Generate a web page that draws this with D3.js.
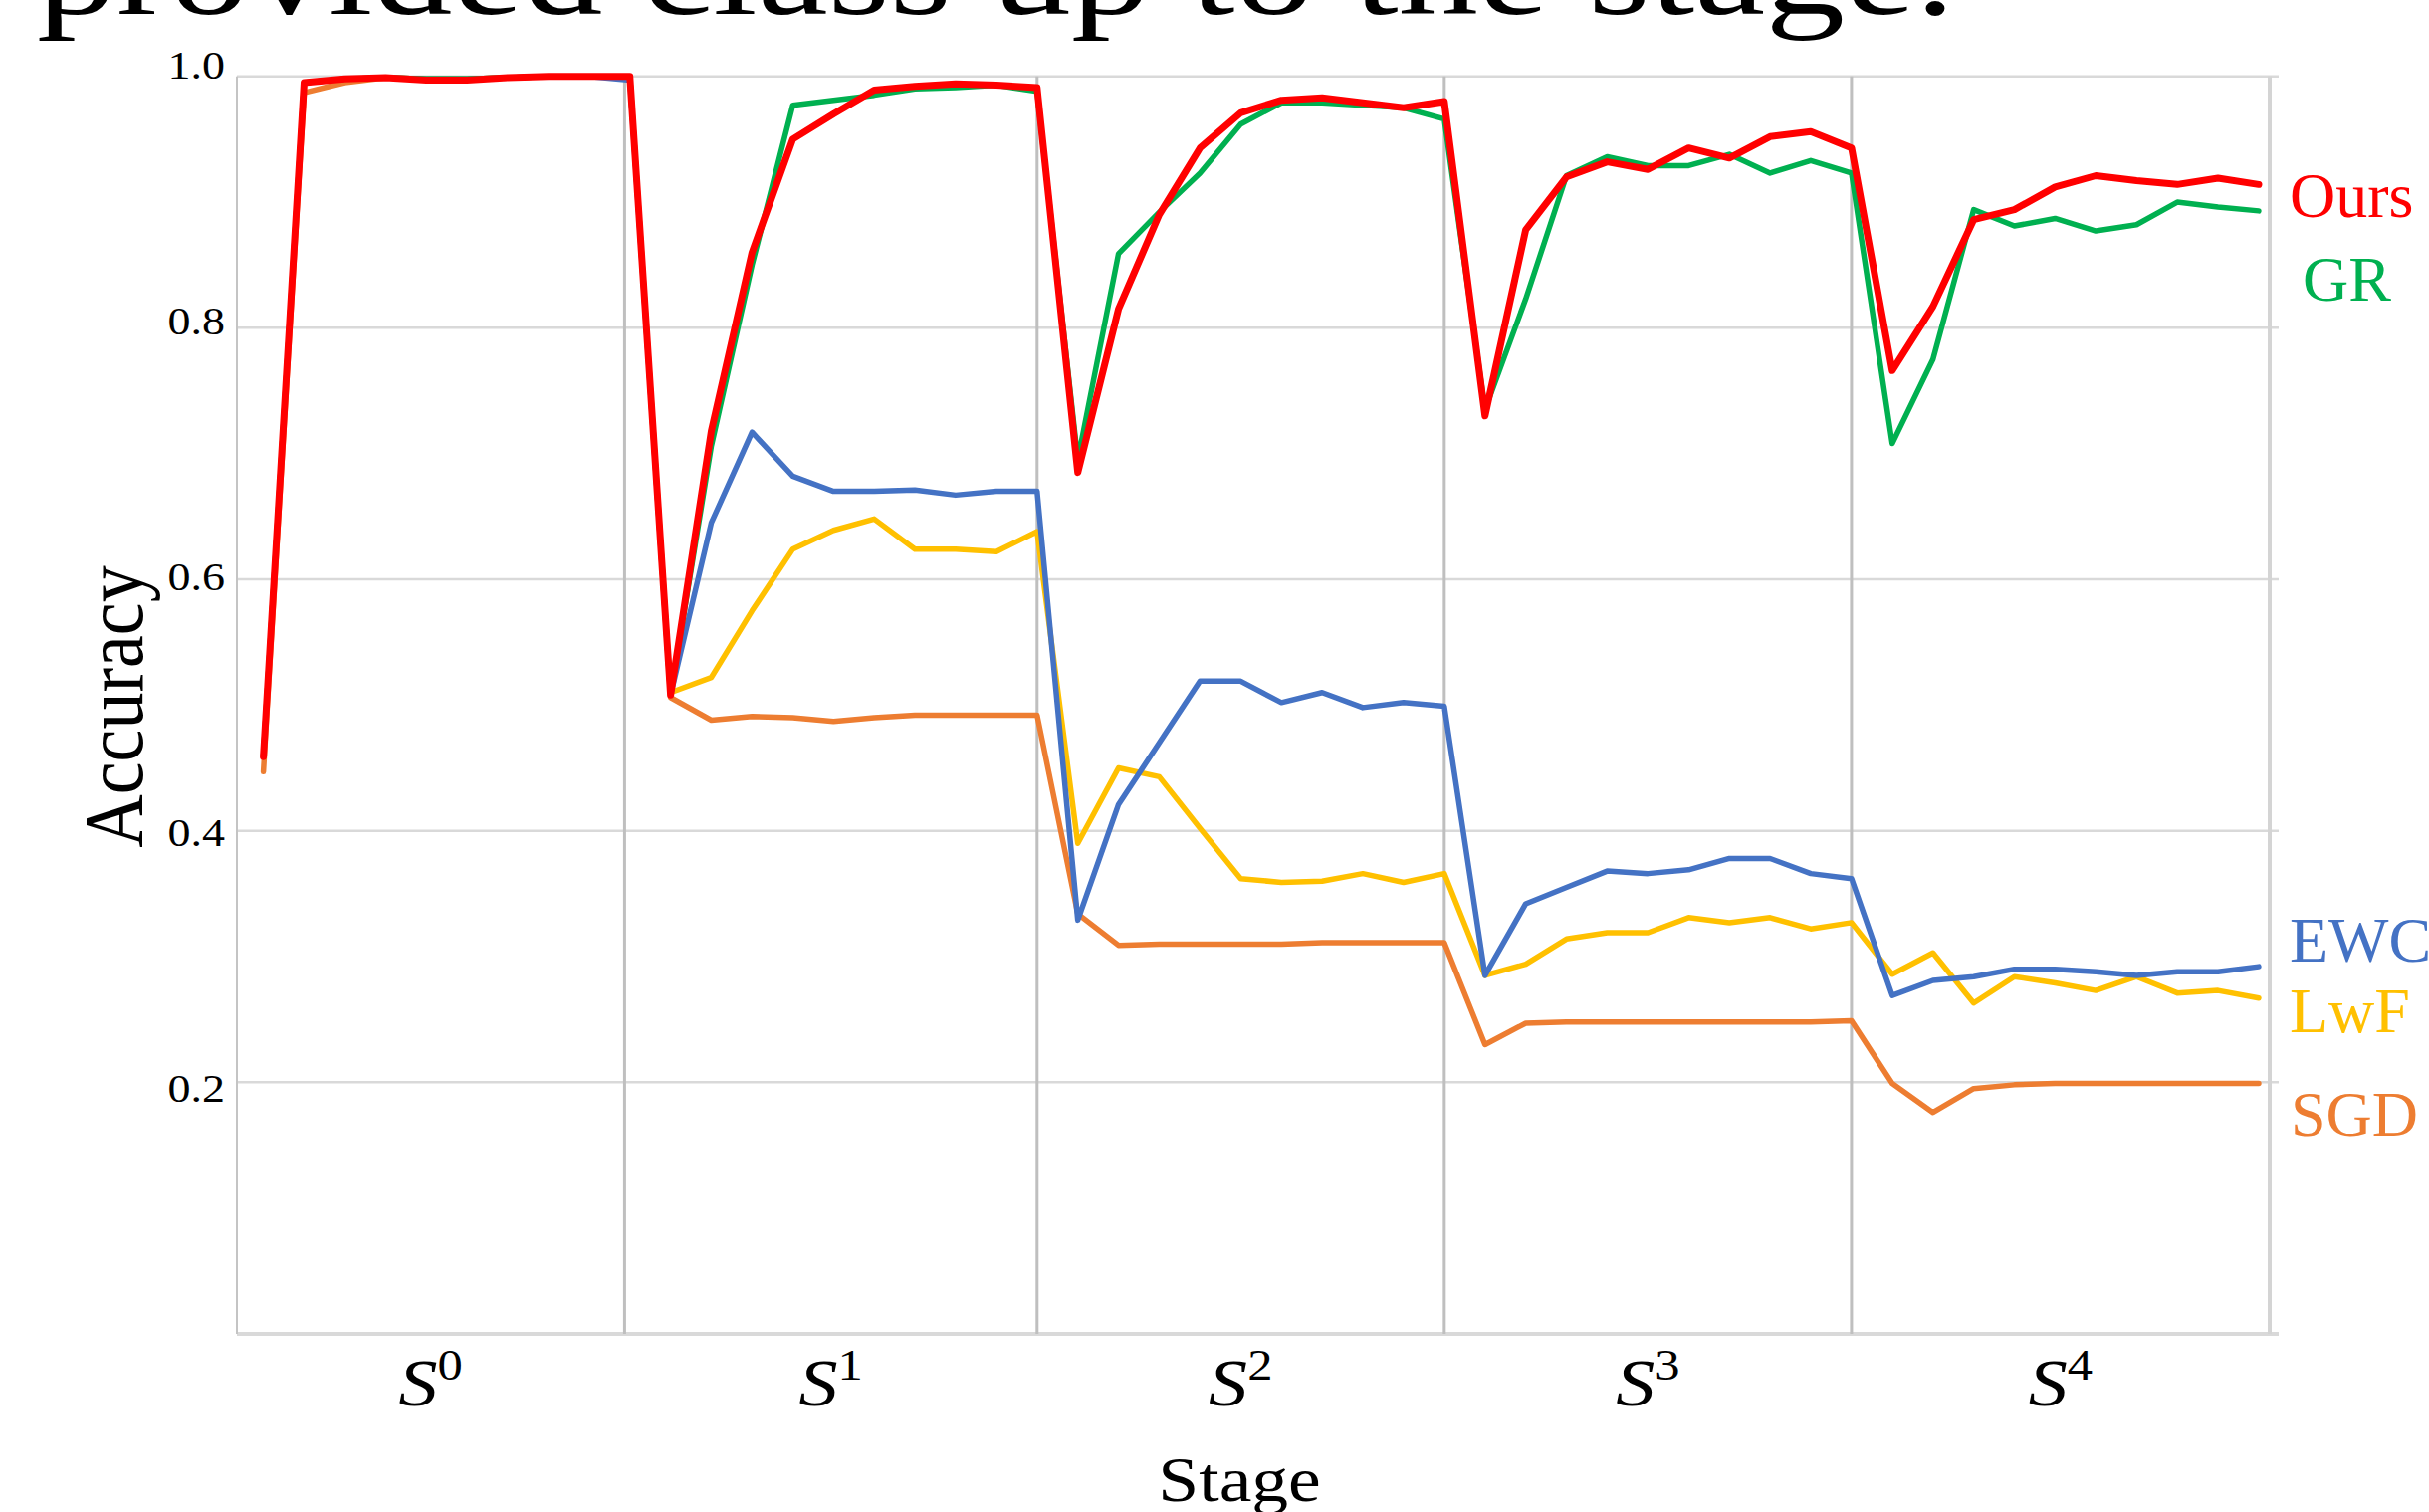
<!DOCTYPE html>
<html><head><meta charset="utf-8">
<script src="https://cdn.jsdelivr.net/npm/d3@7"></script>
<style>
html,body{margin:0;padding:0;background:#fff;}
svg{display:block;}
text{font-family:"Liberation Serif","Times New Roman",serif;}
</style></head>
<body><svg id="chart" width="2440" height="1519"></svg>
<script>
// ---------------- data ----------------
const stageNames = ["0", "1", "2", "3", "4"];
const stageEnds = [8.87, 19, 29, 39];           // step index where each stage ends
const yTicks = [0.2, 0.4, 0.6, 0.8, 1.0];
const captionText = "provided class up to the stage.";

const seriesNames = ["SGD", "LwF", "EWC", "GR", "Ours"];
const seriesColors = ["#ED7D31", "#FFC000", "#4472C4", "#00B050", "#FF0000"];

const sgd = [0.447, 0.987, 0.995, 0.999, 0.998, 0.998, 0.999, 1.0, 1.0, 1.0,
             0.506, 0.488, 0.491, 0.490, 0.487, 0.490, 0.492, 0.492, 0.492, 0.492,
             0.334, 0.309, 0.310, 0.310, 0.310, 0.310, 0.311, 0.311, 0.311, 0.311,
             0.230, 0.247, 0.248, 0.248, 0.248, 0.248, 0.248, 0.248, 0.248, 0.249,
             0.199, 0.176, 0.195, 0.198, 0.199, 0.199, 0.199, 0.199, 0.199, 0.199];
const lwf = [0.46, 0.995, 0.998, 0.999, 0.998, 0.998, 0.999, 1.0, 1.0, 1.0,
             0.510, 0.522, 0.575, 0.624, 0.639, 0.648, 0.624, 0.624, 0.622, 0.638,
             0.390, 0.450, 0.443, 0.402, 0.362, 0.359, 0.360, 0.366, 0.359, 0.366,
             0.285, 0.294, 0.314, 0.319, 0.319, 0.331, 0.327, 0.331, 0.322, 0.327,
             0.286, 0.303, 0.263, 0.284, 0.279, 0.273, 0.284, 0.271, 0.273, 0.267];
const ewc = [0.46, 0.995, 0.998, 0.999, 0.998, 0.998, 0.999, 1.0, 1.0, 0.997,
             0.508, 0.645, 0.717, 0.682, 0.670, 0.670, 0.671, 0.667, 0.670, 0.670,
             0.329, 0.421, 0.470, 0.519, 0.519, 0.502, 0.510, 0.498, 0.502, 0.499,
             0.285, 0.342, 0.355, 0.368, 0.366, 0.369, 0.378, 0.378, 0.366, 0.362,
             0.269, 0.281, 0.284, 0.290, 0.290, 0.288, 0.285, 0.288, 0.288, 0.292];
const gr  = [0.46, 0.995, 0.998, 0.999, 0.998, 0.998, 0.999, 1.0, 1.0, 1.0,
             0.508, 0.706, 0.850, 0.977, 0.981, 0.985, 0.990, 0.991, 0.993, 0.988,
             0.695, 0.859, 0.892, 0.923, 0.962, 0.979, 0.979, 0.977, 0.975, 0.966,
             0.735, 0.823, 0.921, 0.936, 0.929, 0.929, 0.938, 0.923, 0.933, 0.923,
             0.708, 0.775, 0.894, 0.881, 0.887, 0.877, 0.882, 0.900, 0.896, 0.893];
const ours = [0.459, 0.995, 0.998, 0.999, 0.997, 0.997, 0.999, 1.0, 1.0, 1.0,
              0.508, 0.718, 0.860, 0.950, 0.970, 0.989, 0.992, 0.994, 0.993, 0.991,
              0.685, 0.815, 0.890, 0.943, 0.971, 0.981, 0.983, 0.979, 0.975, 0.980,
              0.730, 0.878, 0.920, 0.932, 0.926, 0.943, 0.935, 0.952, 0.956, 0.943,
              0.766, 0.817, 0.886, 0.894, 0.912, 0.921, 0.917, 0.914, 0.919, 0.914];
const seriesValues = [sgd, lwf, ewc, gr, ours];

// ---------------- layout ----------------
const svg = d3.select("#chart");
svg.append("rect").attr("width", 2440).attr("height", 1519).attr("fill", "#fff");

const L = 238, R = 2280, T = 76.7, B = 1340, GRID_R = 2289;
const x = d3.scaleLinear().domain([-0.65, 49.27]).range([L, R]);
const y = d3.scaleLinear().domain([0, 1]).range([B, T]);
const yLab = d3.scaleLinear().domain([0, 1]).range([1363, 78]);
const STRETCH = "scale(1.15,1)";

// caption fragment cut at top
svg.append("g").attr("transform", "translate(37,14) scale(1,0.8)")
  .append("text").attr("x", 0).attr("y", 0)
  .attr("font-size", 160).attr("fill", "#000")
  .attr("textLength", 1927).attr("lengthAdjust", "spacingAndGlyphs")
  .text(captionText);

// horizontal gridlines
svg.append("g").selectAll("line").data(yTicks).join("line")
  .attr("x1", L).attr("x2", GRID_R)
  .attr("y1", d => y(d)).attr("y2", d => y(d))
  .attr("stroke", "#d9d9d9").attr("stroke-width", 2.5);

// bottom axis line
svg.append("line").attr("x1", L).attr("x2", GRID_R).attr("y1", B).attr("y2", B)
  .attr("stroke", "#d9d9d9").attr("stroke-width", 4);
// left axis line
svg.append("line").attr("x1", L).attr("x2", L).attr("y1", T).attr("y2", B)
  .attr("stroke", "#c4c4c4").attr("stroke-width", 2);
// stage separators
svg.append("g").selectAll("line").data(stageEnds).join("line")
  .attr("x1", d => x(d)).attr("x2", d => x(d)).attr("y1", T).attr("y2", B)
  .attr("stroke", "#bfbfbf").attr("stroke-width", 3);
// right border
svg.append("line").attr("x1", R).attr("x2", R).attr("y1", T).attr("y2", B)
  .attr("stroke", "#d4d4d4").attr("stroke-width", 4);

// y axis labels
const yAxisG = svg.append("g").attr("transform", "translate(226,0)")
  .call(d3.axisLeft(yLab).tickValues(yTicks).tickFormat(d3.format(".1f")).tickSize(0));
yAxisG.select(".domain").remove();
yAxisG.selectAll("text")
  .attr("x", 0).attr("dy", 0).attr("text-anchor", "end")
  .attr("transform", STRETCH)
  .attr("font-family", '"Liberation Serif", serif')
  .attr("font-size", 40).attr("fill", "#000");

// stage labels
const bounds = [x.domain()[0], ...stageEnds, x.domain()[1]];
const centers = stageNames.map((s, i) => (x(bounds[i]) + x(bounds[i + 1])) / 2);
const sg = svg.append("g").selectAll("g").data(stageNames).join("g")
  .attr("transform", (d, i) => `translate(${centers[i]},1412) ${STRETCH}`);
const st = sg.append("text").attr("text-anchor", "middle").attr("fill", "#000")
  .attr("font-family", '"Liberation Serif", serif');
st.append("tspan").attr("font-style", "italic").attr("font-size", 68).text("S");
st.append("tspan").attr("font-size", 44).attr("dy", -26).text(d => d);

// axis titles
svg.append("g").attr("transform", `translate(1245,1508) ${STRETCH}`)
  .append("text").attr("text-anchor", "middle").attr("font-size", 64).attr("fill", "#000").text("Stage");
svg.append("g").attr("transform", `translate(143,710) ${STRETCH} rotate(-90)`)
  .append("text").attr("text-anchor", "middle").attr("font-size", 74).attr("fill", "#000").text("Accuracy");

// lines
const line = d3.line().x((d, i) => x(i)).y(d => y(d));
svg.append("g").selectAll("path").data(seriesValues).join("path")
  .attr("d", d => line(d))
  .attr("fill", "none")
  .attr("stroke", (d, i) => seriesColors[i])
  .attr("stroke-width", (d, i) => seriesNames[i] === "Ours" ? 7 : 5.5)
  .attr("stroke-linejoin", "round").attr("stroke-linecap", "round");

// end labels
const labelPos = {Ours: [2300, 218], GR: [2313, 302], EWC: [2300, 966], LwF: [2300, 1037], SGD: [2301, 1141]};
svg.append("g").selectAll("text").data(seriesNames).join("text")
  .attr("x", d => labelPos[d][0]).attr("y", d => labelPos[d][1])
  .attr("font-size", 64)
  .attr("fill", (d, i) => seriesColors[i])
  .text(d => d);
</script></body></html>
